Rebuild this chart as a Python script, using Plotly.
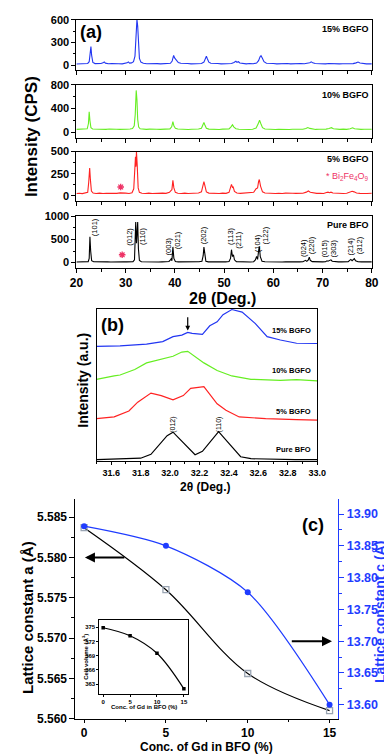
import plotly.graph_objects as go

# ---------------- (a) XRD patterns ----------------
theta_15 = [20.0, 20.6, 21.2, 21.8, 22.3, 22.6, 22.8, 22.95, 23.1, 23.35, 23.8, 24.4, 25.0, 25.4, 25.65, 25.9,
            26.5, 27.2, 27.9, 28.6, 29.3, 29.9, 30.3, 30.55, 30.8, 31.2, 31.6, 31.9, 32.1, 32.3, 32.45, 32.6,
            32.8, 33.1, 33.6, 34.3, 35.0, 35.7, 36.4, 37.1, 37.8, 38.5, 39.1, 39.45, 39.75, 39.95, 40.3, 40.7,
            41.2, 41.9, 42.6, 43.3, 44.0, 44.7, 45.4, 45.9, 46.2, 46.4, 46.6, 46.9, 47.3, 48.0, 48.7, 49.4,
            50.1, 50.8, 51.5, 52.0, 52.4, 52.6, 52.9, 53.2, 53.8, 54.5, 55.2, 55.9, 56.6, 57.0, 57.3, 57.5,
            57.75, 58.1, 58.6, 59.3, 60.0, 60.7, 61.4, 62.1, 62.8, 63.5, 64.2, 64.9, 65.6, 66.3, 67.0, 67.4,
            67.7, 68.0, 68.5, 69.2, 69.9, 70.6, 71.3, 72.0, 72.7, 73.4, 74.1, 74.8, 75.5, 76.2, 76.8, 77.2,
            77.6, 78.2, 78.9, 79.5, 80.0]
cps_15 = [14, 18, 15, 19, 22, 45, 170, 245, 130, 35, 20, 16, 21, 30, 42, 26,
          18, 21, 16, 19, 17, 22, 30, 42, 27, 30, 45, 120, 380, 605, 520, 250,
          90, 40, 25, 18, 21, 17, 20, 16, 21, 18, 25, 55, 130, 95, 60, 35,
          24, 18, 21, 16, 19, 17, 22, 40, 90, 117, 85, 40, 25, 18, 21, 16,
          19, 17, 22, 35, 52, 38, 45, 28, 20, 17, 21, 18, 28, 60, 110, 125,
          95, 45, 25, 18, 21, 16, 19, 17, 21, 16, 19, 17, 21, 18, 22, 32,
          43, 30, 21, 17, 20, 16, 21, 18, 20, 16, 19, 17, 21, 20, 30, 40,
          28, 20, 17, 19, 16]

theta_10 = [20.0, 20.6, 21.2, 21.8, 22.2, 22.45, 22.6, 22.75, 22.95, 23.3, 23.9, 24.6, 25.3, 26.0, 26.7, 27.4,
            28.1, 28.8, 29.5, 30.2, 30.9, 31.4, 31.75, 31.95, 32.15, 32.3, 32.45, 32.65, 32.95, 33.5, 34.2, 34.9,
            35.6, 36.3, 37.0, 37.7, 38.4, 39.0, 39.35, 39.6, 39.8, 40.1, 40.6, 41.3, 42.0, 42.7, 43.4, 44.1,
            44.8, 45.4, 45.7, 45.9, 46.1, 46.4, 46.9, 47.6, 48.3, 49.0, 49.7, 50.4, 51.0, 51.4, 51.7, 52.0,
            52.4, 53.0, 53.7, 54.4, 55.1, 55.8, 56.5, 56.9, 57.2, 57.45, 57.8, 58.3, 59.0, 59.7, 60.4, 61.1,
            61.8, 62.5, 63.2, 63.9, 64.6, 65.3, 66.0, 66.6, 67.0, 67.4, 67.9, 68.6, 69.3, 70.0, 70.7, 71.3,
            71.8, 72.2, 72.8, 73.5, 74.2, 74.9, 75.6, 76.1, 76.5, 77.1, 77.8, 78.5, 79.2, 80.0]
cps_10 = [52, 56, 50, 55, 62, 150, 345, 200, 80, 58, 54, 50, 56, 52, 57, 50,
          55, 51, 58, 53, 57, 65, 110, 300, 705, 550, 220, 90, 62, 55, 51, 56,
          50, 55, 52, 57, 51, 60, 95, 183, 110, 70, 58, 52, 56, 50, 55, 51,
          57, 70, 120, 167, 125, 70, 56, 51, 55, 50, 56, 52, 60, 95, 128, 90,
          62, 54, 51, 56, 50, 55, 75, 140, 205, 150, 80, 58, 52, 56, 50, 55,
          51, 56, 50, 55, 52, 56, 53, 65, 83, 68, 56, 51, 55, 50, 56, 66,
          80, 63, 54, 51, 56, 52, 62, 78, 62, 53, 51, 55, 50, 53]

theta_5 = [20.0, 20.6, 21.2, 21.8, 22.3, 22.5, 22.7, 22.85, 23.05, 23.4, 24.0, 24.7, 25.4, 26.1, 26.8, 27.5,
           28.2, 28.9, 29.4, 30.0, 30.7, 31.3, 31.65, 31.9, 32.0, 32.1, 32.2, 32.35, 32.55, 32.8, 33.3, 34.0,
           34.7, 35.4, 36.1, 36.8, 37.5, 38.2, 38.9, 39.2, 39.4, 39.6, 39.8, 40.1, 40.6, 41.3, 42.0, 42.7,
           43.4, 44.1, 44.8, 45.4, 45.7, 45.9, 46.1, 46.4, 46.9, 47.6, 48.3, 49.0, 49.7, 50.4, 51.0, 51.35,
           51.5, 51.7, 51.85, 52.1, 52.6, 53.3, 54.0, 54.7, 55.4, 56.0, 56.5, 56.8, 57.0, 57.15, 57.4, 57.8,
           58.3, 59.0, 59.7, 60.4, 61.1, 61.8, 62.5, 63.2, 63.9, 64.6, 65.3, 66.0, 66.7, 67.1, 67.5, 68.1,
           68.8, 69.5, 70.2, 70.8, 71.1, 71.4, 71.7, 72.1, 72.8, 73.5, 74.2, 74.9, 75.6, 76.0, 76.4, 76.9,
           77.6, 78.3, 79.0, 80.0]
cps_5 = [26, 30, 25, 29, 40, 150, 315, 180, 55, 32, 27, 31, 26, 30, 27, 32,
         28, 34, 29, 31, 27, 35, 80, 380, 440, 330, 500, 350, 90, 40, 30, 27,
         31, 26, 30, 27, 31, 28, 40, 60, 70, 175, 90, 40, 30, 27, 31, 26,
         30, 27, 32, 45, 110, 160, 115, 45, 31, 27, 30, 26, 31, 28, 40, 110,
         130, 95, 100, 50, 32, 28, 31, 27, 30, 40, 80, 90, 160, 185, 110, 45,
         32, 28, 31, 27, 30, 26, 31, 27, 30, 28, 31, 29, 42, 55, 40, 31,
         28, 30, 27, 38, 42, 36, 42, 32, 28, 31, 27, 30, 40, 52, 45, 32,
         28, 31, 26, 29]

theta_0 = [20.0, 20.6, 21.2, 21.8, 22.4, 22.6, 22.75, 22.9, 23.1, 23.5, 24.2, 24.9, 25.6, 26.3, 27.0, 27.7,
           28.4, 29.0, 29.3, 29.6, 30.2, 30.9, 31.5, 31.8, 31.95, 32.05, 32.2, 32.3, 32.45, 32.6, 32.8, 33.2,
           33.9, 34.6, 35.3, 36.0, 36.7, 37.4, 38.1, 38.8, 39.1, 39.25, 39.4, 39.6, 39.8, 40.1, 40.7, 41.4,
           42.1, 42.8, 43.5, 44.2, 44.9, 45.5, 45.75, 45.9, 46.05, 46.3, 46.8, 47.5, 48.2, 48.9, 49.6, 50.3,
           51.0, 51.3, 51.5, 51.7, 51.9, 52.1, 52.5, 53.2, 53.9, 54.6, 55.3, 56.0, 56.35, 56.6, 56.8, 57.0,
           57.15, 57.35, 57.7, 58.3, 59.0, 59.7, 60.4, 61.1, 61.8, 62.5, 63.2, 63.9, 64.6, 65.3, 66.0, 66.3,
           66.55, 66.8, 67.1, 67.3, 67.5, 67.9, 68.6, 69.3, 70.0, 70.6, 70.9, 71.1, 71.4, 71.7, 71.95, 72.5,
           73.2, 73.9, 74.6, 75.2, 75.5, 75.75, 76.0, 76.2, 76.45, 76.7, 77.2, 77.9, 78.6, 79.3, 80.0]
cps_0 = [14, 17, 13, 16, 22, 90, 560, 250, 40, 18, 14, 17, 13, 16, 14, 18,
         15, 25, 30, 18, 16, 14, 20, 60, 450, 880, 420, 550, 880, 300, 45, 18,
         15, 17, 13, 16, 14, 17, 15, 25, 60, 80, 40, 340, 90, 22, 16, 14,
         17, 13, 16, 14, 18, 30, 150, 335, 160, 30, 17, 14, 16, 13, 17, 15,
         22, 90, 280, 130, 170, 60, 22, 16, 14, 17, 13, 20, 60, 135, 70, 250,
         350, 130, 30, 18, 15, 17, 13, 16, 14, 17, 13, 16, 14, 17, 18, 35,
         50, 28, 60, 120, 50, 22, 16, 14, 17, 20, 40, 30, 38, 60, 30, 18,
         15, 17, 14, 20, 50, 70, 40, 60, 85, 40, 18, 15, 17, 14, 16]

star_5_theta, star_5_cps = [29.0], [100]
star_0_theta, star_0_cps = [29.3], [170]

hkl_labels = ["(101)", "(012)", "(110)", "(003)", "(021)", "(202)", "(113)", "(211)",
              "(104)", "(122)", "(024)", "(220)", "(015)", "(303)", "(214)", "(312)"]
hkl_theta = [23.6, 30.9, 33.4, 38.8, 40.7, 46.0, 51.25, 53.0,
             56.7, 58.4, 66.0, 67.75, 70.35, 72.2, 75.6, 77.5]
hkl_label_y = [770, 563, 563, 350, 492, 600, 563, 492,
               421, 600, 314, 385, 314, 314, 350, 364]

# ---------------- (b) zoom on the main doublet ----------------
b_theta_0 = [31.50, 31.60, 31.70, 31.80, 31.87, 31.93, 31.98, 32.02, 32.08, 32.17, 32.22, 32.27, 32.33,
             32.40, 32.48, 32.55, 32.70, 32.85, 33.00]
b_int_0 = [1.5, 1.8, 2.2, 3.0, 7.0, 18, 26, 29.5, 20, 6.5, 10, 19, 30, 18, 4.5, 2.5, 1.8, 1.5, 1.5]
b_theta_5 = [31.50, 31.55, 31.62, 31.72, 31.78, 31.87, 31.94, 32.02, 32.09, 32.14, 32.23, 32.32, 32.38,
             32.47, 32.65, 32.86, 33.00]
b_int_5 = [43.3, 44, 45, 51, 60, 69.3, 66.7, 62.3, 66.7, 74, 75.7, 58.3, 51.7, 45, 43.3, 42.3, 41.7]
b_theta_10 = [31.50, 31.55, 31.62, 31.66, 31.76, 31.84, 31.93, 32.02, 32.08, 32.12, 32.23, 32.32, 32.42,
              32.55, 32.75, 32.86, 33.00]
b_int_10 = [83.3, 85, 86.7, 87.7, 93.3, 100, 103.3, 106.7, 111, 111.7, 100, 92.3, 86.7, 83.3, 82.3, 83, 81.7]
b_theta_15 = [31.50, 31.66, 31.84, 31.95, 32.02, 32.08, 32.12, 32.15, 32.22, 32.27, 32.32, 32.36, 32.42,
              32.49, 32.58, 32.66, 32.75, 32.86, 33.00]
b_int_15 = [116.7, 117.3, 119, 121.7, 126.7, 128.3, 131, 130, 129, 137.7, 141.7, 149, 154.3, 151.7, 140,
            126.7, 123.3, 120, 119.7]

# ---------------- (c) lattice constants ----------------
gd_conc = [0, 5, 10, 15]
lattice_a = [5.5837, 5.5760, 5.5656, 5.5610]
lattice_c = [13.881, 13.850, 13.777, 13.600]
cell_volume = [374.9, 373.2, 369.5, 362.0]

# ---------------- styling ----------------
W, H = 392, 754
FONT = "Liberation Sans, Arial, sans-serif"
BLUE = "#2236f2"
GREEN = "#66ee22"
RED = "#ff2222"
PINK = "#ee3366"
CBLUE = "#1f3cff"


def fx(p):
    return p / W


def fy(p):
    return 1 - p / H


def bold(size, color="black"):
    return dict(family=FONT, size=size, color=color, weight="bold")


AX = dict(showline=True, linecolor="black", linewidth=1, mirror=True, ticks="outside", ticklen=4,
          tickwidth=1, tickcolor="black", showgrid=False, zeroline=False, tickfont=bold(11))

fig = go.Figure()

# (a)
for i, (tx, ty, col) in enumerate([(theta_15, cps_15, BLUE), (theta_10, cps_10, GREEN),
                                   (theta_5, cps_5, RED), (theta_0, cps_0, "black")]):
    n = "" if i == 0 else str(i + 1)
    fig.add_trace(go.Scatter(x=tx, y=ty, mode="lines", line=dict(color=col, width=1.1),
                             xaxis="x" + n, yaxis="y" + n, showlegend=False))
for sx, sy, ax in [(star_5_theta, star_5_cps, "3"), (star_0_theta, star_0_cps, "4")]:
    fig.add_trace(go.Scatter(x=sx, y=sy, mode="markers", xaxis="x" + ax, yaxis="y" + ax, showlegend=False,
                             marker=dict(symbol="asterisk-open", size=5.5, color=PINK,
                                         line=dict(color=PINK, width=1.3))))

# (b)
for tx, ty, col in [(b_theta_0, b_int_0, "black"), (b_theta_5, b_int_5, RED),
                    (b_theta_10, b_int_10, GREEN), (b_theta_15, b_int_15, BLUE)]:
    fig.add_trace(go.Scatter(x=tx, y=ty, mode="lines", line=dict(color=col, width=1.2),
                             xaxis="x5", yaxis="y5", showlegend=False))

# (c)
fig.add_trace(go.Scatter(x=gd_conc, y=lattice_a, mode="lines+markers", xaxis="x6", yaxis="y6",
                         line=dict(color="black", width=1.2, shape="spline"),
                         marker=dict(symbol="square-open", size=6, color="#9aa5b3", line=dict(width=1.3)),
                         showlegend=False))
fig.add_trace(go.Scatter(x=gd_conc, y=lattice_c, mode="lines+markers", xaxis="x6", yaxis="y7",
                         line=dict(color=CBLUE, width=1.2, shape="spline", smoothing=0.8),
                         marker=dict(symbol="circle", size=6, color=CBLUE), showlegend=False))
fig.add_trace(go.Scatter(x=gd_conc, y=cell_volume, mode="lines+markers", xaxis="x8", yaxis="y8",
                         line=dict(color="black", width=1.2, shape="spline"),
                         marker=dict(symbol="square", size=3.5, color="black"), showlegend=False))

layout = dict(width=W, height=H, margin=dict(l=0, r=0, t=0, b=0), paper_bgcolor="white",
              plot_bgcolor="white", font=dict(family=FONT, color="black"), showlegend=False)

# (a) axes
a_y = [((6, 57), [-65, 600], [0, 300, 600], [150, 450]),
       ((72, 126), [-90, 800], [0, 400, 800], [200, 600]),
       ((140, 190), [-55, 500], [0, 250, 500], [125, 375]),
       ((206, 258), [-107, 1000], [0, 500, 1000], [250, 750])]
for i, ((top, bot), rng, tv, mv) in enumerate(a_y):
    n = "" if i == 0 else str(i + 1)
    layout["xaxis" + n] = dict(AX, domain=[fx(64), fx(372)], anchor="y" + n, range=[20, 80], dtick=10,
                               tick0=0, showticklabels=(i == 3), tickfont=bold(12),
                               minor=dict(dtick=5, tick0=0, ticks="outside", ticklen=3, tickcolor="black"))
    layout["yaxis" + n] = dict(AX, domain=[fy(bot), fy(top)], anchor="x" + n, range=rng, tickvals=tv,
                               minor=dict(tickvals=mv, ticks="outside", ticklen=2.5, tickcolor="black"))

# (b) axes
layout["xaxis5"] = dict(AX, domain=[fx(85), fx(315)], anchor="y5", range=[31.5, 33.0], tick0=31.6,
                        dtick=0.2, tickformat=".1f", tickfont=bold(9), ticklen=3,
                        minor=dict(dtick=0.1, tick0=31.5, ticks="outside", ticklen=2, tickcolor="black"))
layout["yaxis5"] = dict(AX, domain=[fy(455), fy(300)], anchor="x5", range=[0, 155], ticks="",
                        showticklabels=False)

# (c) axes
layout["xaxis6"] = dict(AX, domain=[fx(63), fx(337)], anchor="y6", range=[-0.53, 15.53], mirror=False,
                        tickvals=[0, 5, 10, 15], tickfont=bold(12), ticklen=3,
                        minor=dict(tickvals=[2.5, 7.5, 12.5], ticks="outside", ticklen=2, tickcolor="black"))
layout["xaxis9"] = dict(showline=True, linecolor="black", overlaying="x6", side="top", anchor="y6",
                        range=[-0.53, 15.53], ticks="inside", ticklen=4, tickcolor="black", dtick=2.5,
                        tick0=0, showticklabels=False, showgrid=False, zeroline=False)
layout["yaxis6"] = dict(AX, domain=[fy(717), fy(494)], anchor="x6", range=[5.560, 5.5872], mirror=False,
                        tickvals=[5.560, 5.565, 5.570, 5.575, 5.580, 5.585], tickformat=".3f",
                        tickfont=bold(12), ticklen=5,
                        minor=dict(dtick=0.0025, tick0=5.560, ticks="outside", ticklen=3, tickcolor="black"))
layout["yaxis7"] = dict(AX, overlaying="y6", side="right", anchor="x6", range=[13.578, 13.923],
                        mirror=False, linecolor=CBLUE, tickcolor=CBLUE, tickfont=bold(12.5, CBLUE),
                        tickvals=[13.60, 13.65, 13.70, 13.75, 13.80, 13.85, 13.90], tickformat=".2f",
                        ticklen=5,
                        minor=dict(dtick=0.025, tick0=13.6, ticks="outside", ticklen=3, tickcolor=CBLUE))
layout["xaxis8"] = dict(AX, domain=[fx(88), fx(180)], anchor="y8", range=[-0.7, 15.7],
                        tickvals=[0, 5, 10, 15], tickfont=bold(6), ticklen=2)
layout["yaxis8"] = dict(AX, domain=[fy(692), fy(617)], anchor="x8", range=[360.9, 376.45],
                        tickvals=[363, 366, 369, 372, 375], tickfont=bold(6), ticklen=2)

ann = []


def text(x, y, s, size, color="black", angle=0, xanchor="center", weight="bold"):
    ann.append(dict(x=fx(x), y=fy(y), xref="paper", yref="paper", text=s, showarrow=False,
                    textangle=angle, xanchor=xanchor, yanchor="middle",
                    font=dict(family=FONT, size=size, color=color, weight=weight)))


# (a) texts
text(79, 18, "(a)", 18)
text(371, 15, "15% BGFO", 9, xanchor="right")
text(371, 82, "10% BGFO", 9, xanchor="right")
text(371, 148, "5% BGFO", 9, xanchor="right")
text(371, 215, "Pure BFO", 9, xanchor="right")
text(371, 165, "* Bi<sub>2</sub>Fe<sub>4</sub>O<sub>9</sub>", 9, color=PINK, xanchor="right", weight="normal")
text(18, 125, "Intensity (CPS)", 17, angle=-90)
text(216, 289, "2θ (Deg.)", 16)
for lab, tx, ty in zip(hkl_labels, hkl_theta, hkl_label_y):
    ann.append(dict(x=tx, y=ty, xref="x4", yref="y4", text=lab, showarrow=False, textangle=-90,
                    font=dict(family=FONT, size=7.5, color="black")))

# (b) texts
text(102, 316, "(b)", 18)
text(70, 373, "Intensity (a.u.)", 14, angle=-90)
text(199, 481, "2θ (Deg.)", 12)
for s, yy in [("15% BGFO", 133), ("10% BGFO", 92), ("5% BGFO", 51), ("Pure BFO", 12)]:
    ann.append(dict(x=32.97, y=yy, xref="x5", yref="y5", text=s, showarrow=False, xanchor="right",
                    font=dict(family=FONT, size=7.5, color="black", weight="bold")))
for s, xx in [("(012)", 32.02), ("(110)", 32.33)]:
    ann.append(dict(x=xx, y=37, xref="x5", yref="y5", text=s, showarrow=False, textangle=-90,
                    font=dict(family=FONT, size=7, color="black")))
ann.append(dict(x=32.12, y=133, xref="x5", yref="y5", ax=32.12, ay=148, axref="x5", ayref="y5",
                text="", showarrow=True, arrowhead=2, arrowsize=0.8, arrowwidth=1.2, arrowcolor="black"))

# (c) texts
text(311, 520, "(c)", 18)
text(13, 614, "Lattice constant a (Å)", 15, angle=-90)
text(380, 608, "Lattice constant c (Å)", 14, color=CBLUE, angle=-90)
text(200, 746, "Conc. of Gd in BFO (%)", 12)
text(73, 654, "Cell volume (Å<sup>3</sup>)", 6, angle=-90)
text(134, 705, "Conc. of Gd in BFO (%)", 6)
ann.append(dict(x=0.05, y=5.580, xref="x6", yref="y6", ax=2.55, ay=5.580, axref="x6", ayref="y6",
                text="", showarrow=True, arrowhead=2, arrowsize=1, arrowwidth=2, arrowcolor="black"))
ann.append(dict(x=15.15, y=13.70, xref="x6", yref="y7", ax=12.6, ay=13.70, axref="x6", ayref="y7",
                text="", showarrow=True, arrowhead=2, arrowsize=1, arrowwidth=2, arrowcolor="black"))

layout["annotations"] = ann
fig.update_layout(**layout)
fig.write_html("out.html")
